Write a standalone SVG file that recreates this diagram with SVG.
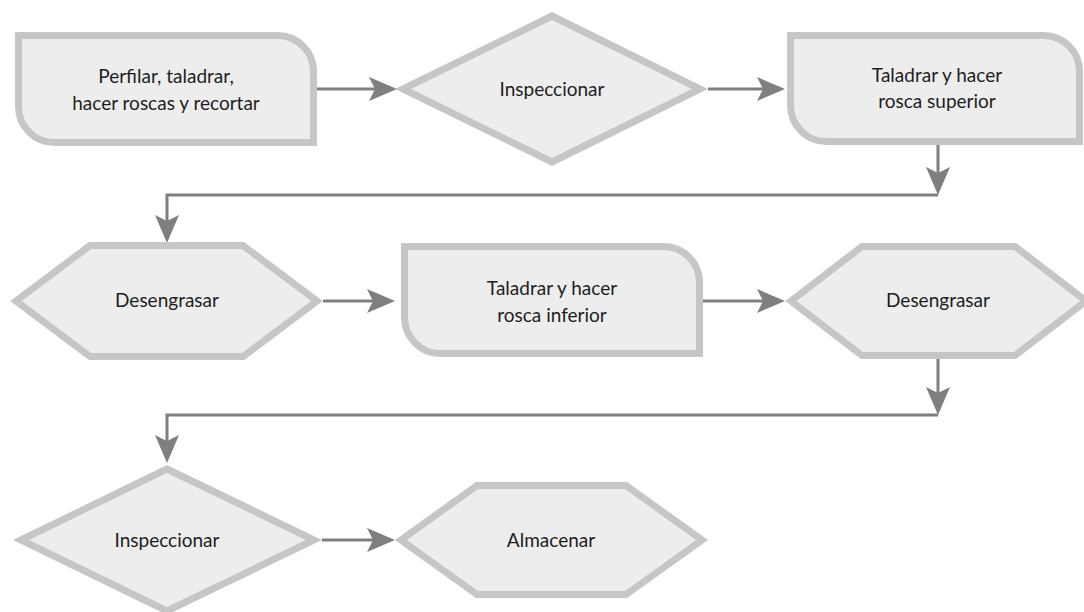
<svg xmlns="http://www.w3.org/2000/svg" width="1084" height="612" viewBox="0 0 1084 612">
<style>
.shape{fill:#ededed;stroke:#c6c6c6;stroke-width:7;stroke-linejoin:miter}
.lbl{font-family:Lato,"Open Sans","Noto Sans",sans-serif;font-size:19px;fill:#1e1e1e;text-anchor:middle}
.conn{fill:none;stroke:#7f7f7f;stroke-width:3}
</style>
<defs>
<marker id="arr" markerUnits="userSpaceOnUse" markerWidth="28" markerHeight="24" viewBox="0 0 28 24" refX="6" refY="12" orient="auto">
<path d="M0,0 L28,12 L0,24 L6,12 Z" fill="#7f7f7f"/>
</marker>
</defs>
<rect width="1084" height="612" fill="#ffffff"/>
<g id="connectors">
<path class="conn" d="M317,89 H375" marker-end="url(#arr)"/>
<path class="conn" d="M708,89 H763" marker-end="url(#arr)"/>
<path class="conn" d="M938,145 V173" marker-end="url(#arr)"/>
<path class="conn" d="M938,195 H167 V221" marker-end="url(#arr)"/>
<path class="conn" d="M323,301 H373" marker-end="url(#arr)"/>
<path class="conn" d="M703,301 H763" marker-end="url(#arr)"/>
<path class="conn" d="M938,359 V393" marker-end="url(#arr)"/>
<path class="conn" d="M938,415 H167 V441" marker-end="url(#arr)"/>
<path class="conn" d="M322,540 H373" marker-end="url(#arr)"/>
</g>
<g id="n1">
<path class="shape" d="M18.5,35.5 H277.5 A36,36 0 0 1 313.5,71.5 V142.5 H54.5 A36,36 0 0 1 18.5,106.5 Z"/>
<text class="lbl" x="166" y="83">Perfilar, taladrar,</text>
<text class="lbl" x="166" y="110">hacer roscas y recortar</text>
</g>
<g id="n2">
<polygon class="shape" points="403,89 552,16 700,89 552,162"/>
<text class="lbl" x="552" y="96">Inspeccionar</text>
</g>
<g id="n3">
<path class="shape" d="M790.5,35.5 H1043.5 A36,36 0 0 1 1079.5,71.5 V141.5 H826.5 A36,36 0 0 1 790.5,105.5 Z"/>
<text class="lbl" x="937" y="82">Taladrar y hacer</text>
<text class="lbl" x="937" y="108">rosca superior</text>
</g>
<g id="n4">
<polygon class="shape" points="16,301 90,245.5 243,245.5 317,301 243,356.5 90,356.5"/>
<text class="lbl" x="167" y="307">Desengrasar</text>
</g>
<g id="n5">
<path class="shape" d="M404.5,246.5 H663.5 A36,36 0 0 1 699.5,282.5 V353.5 H440.5 A36,36 0 0 1 404.5,317.5 Z"/>
<text class="lbl" x="552" y="295">Taladrar y hacer</text>
<text class="lbl" x="552" y="322">rosca inferior</text>
</g>
<g id="n6">
<polygon class="shape" points="791,301 862,246.5 1015,246.5 1086,301 1015,355.5 862,355.5"/>
<text class="lbl" x="938" y="307">Desengrasar</text>
</g>
<g id="n7">
<polygon class="shape" points="21,540 167,469 314,540 167,611"/>
<text class="lbl" x="167" y="547">Inspeccionar</text>
</g>
<g id="n8">
<polygon class="shape" points="401,540 477,485.5 626,485.5 702,540 626,594.5 477,594.5"/>
<text class="lbl" x="551" y="547">Almacenar</text>
</g>
</svg>
